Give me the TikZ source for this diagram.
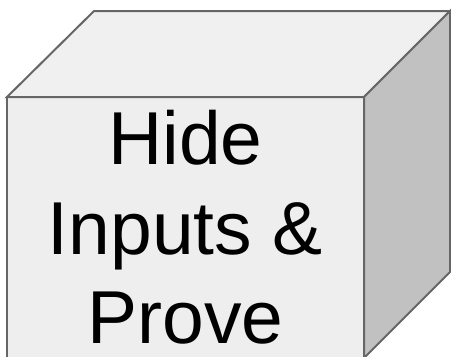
\documentclass[tikz,border=0pt]{standalone}
\usepackage{fontspec}
\setmainfont{Liberation Sans}
\usetikzlibrary{positioning, calc}
\definecolor{edge}{HTML}{666666}
\definecolor{frontgray}{HTML}{EEEEEE}
\definecolor{topgray}{HTML}{F0F0F0}
\definecolor{sidegray}{HTML}{C1C1C1}

\begin{document}
\begin{tikzpicture}[x=1pt, y=-1pt,
  face/.style={draw=edge, line width=2pt}]
  \useasboundingbox (0,0) rectangle (451,357);

  % Front face of the box
  \node[face, fill=frontgray, minimum width=357pt, minimum height=261pt,
        inner sep=0, outer sep=0, anchor=north west] (front) at (7,97) {};

  % Top and side faces
  \draw[face, fill=topgray] (front.north west) -- ++(87,-86) -- ++(356,0)
       -- (front.north east) -- cycle;
  \draw[face, fill=sidegray] (front.north east) -- ++(86,-86) -- ++(0,261)
       -- (front.south east) -- cycle;

  % Label on the front face
  \node[inner sep=0, align=center, font=\fontsize{75}{89.5}\selectfont]
       (label) at (front.center) {Hide\\Inputs \&\\Prove};
\end{tikzpicture}
\end{document}
